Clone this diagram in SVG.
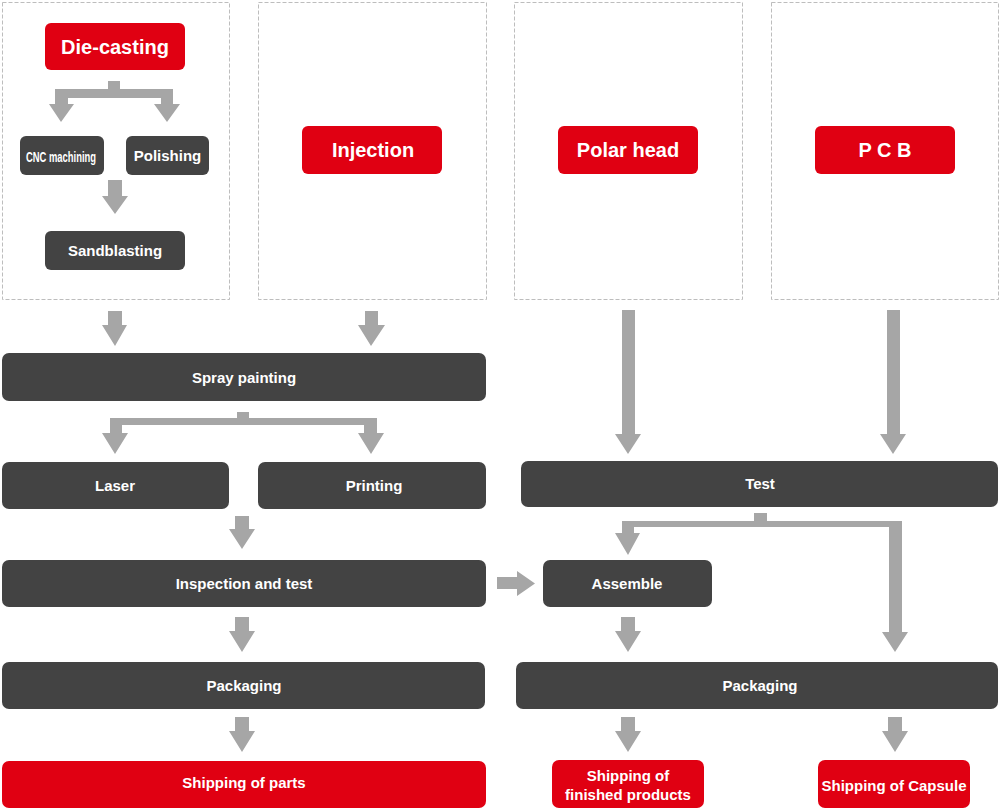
<svg xmlns="http://www.w3.org/2000/svg" width="1000" height="809" viewBox="0 0 1000 809">
<style>
.frame{fill:#fff;stroke:#bdbdbd;stroke-width:1;stroke-dasharray:4 2}
.red{fill:#e00012}
.dark{fill:#434343}
.arr{fill:#a6a6a6}
text{font-family:"Liberation Sans",Arial,sans-serif;font-weight:bold;fill:#fff;text-anchor:middle}
.big{font-size:20px}
.mid{font-size:15px}
</style>
<rect class="frame" x="2.5" y="2.5" width="227" height="297"/>
<rect class="frame" x="258.5" y="2.5" width="228" height="297"/>
<rect class="frame" x="514.5" y="2.5" width="228" height="297"/>
<rect class="frame" x="771.5" y="2.5" width="227" height="297"/>

<g id="connectors">
  <path class="arr" d="M108,81H120V89H173V104H180L167,122L154,104H161V98H68V104H74L61,122L49,104H55V89H108Z"/>
  <path class="arr" d="M108,180H122V196H128L115,214L102,196H108Z"/>
  <path class="arr" d="M108,311H122V325H127L115,346L102,325H108Z"/>
  <path class="arr" d="M365,311H378V325H385L371,346L358,325H365Z"/>
  <path class="arr" d="M237,412H249V418H377V433H384L371,454L358,433H364V425H122V433H128L115,454L102,433H110V418H237Z"/>
  <path class="arr" d="M235,516H249V529H255L242,549L229,529H235Z"/>
  <path class="arr" d="M497,577H517V571L535,583.5L517,596V589H497Z"/>
  <path class="arr" d="M235,617H249V631H255L242,652L229,631H235Z"/>
  <path class="arr" d="M235,717H249V731H255L242,752L229,731H235Z"/>
  <path class="arr" d="M622,310H635V434H641L628,454L615,434H622Z"/>
  <path class="arr" d="M887,310H900V434H906L893,454L880,434H887Z"/>
  <path class="arr" d="M754,513H767V521H902V632H908L895,652L882,632H889V527H634V533H640L628,555L615,533H622V521H754Z"/>
  <path class="arr" d="M621,617H635V631H641L628,652L615,631H621Z"/>
  <path class="arr" d="M621,717H635V731H641L628,752L615,731H621Z"/>
  <path class="arr" d="M888,717H902V731H908L895,752L882,731H888Z"/>
</g>

<g id="die-casting"><rect class="red" x="45" y="23" width="140" height="47" rx="6"/><text class="big" x="115" y="53.5">Die-casting</text></g>
<g id="cnc"><rect class="dark" x="20" y="136" width="84" height="39" rx="6"/><text x="61" y="161.5" font-size="15" textLength="70" lengthAdjust="spacingAndGlyphs">CNC machining</text></g>
<g id="polishing"><rect class="dark" x="126" y="136" width="83" height="39" rx="6"/><text class="mid" x="167.5" y="161">Polishing</text></g>
<g id="sandblasting"><rect class="dark" x="45" y="231" width="140" height="39" rx="6"/><text class="mid" x="115" y="256">Sandblasting</text></g>
<g id="injection"><rect class="red" x="302" y="126" width="140" height="48" rx="6"/><text class="big" x="373" y="157">Injection</text></g>
<g id="polar-head"><rect class="red" x="558" y="126" width="140" height="48" rx="6"/><text class="big" x="628" y="157">Polar head</text></g>
<g id="pcb"><rect class="red" x="815" y="126" width="140" height="48" rx="6"/><text class="big" x="885" y="157">P C B</text></g>
<g id="spray"><rect class="dark" x="2" y="353" width="484" height="48" rx="7"/><text class="mid" x="244" y="383">Spray painting</text></g>
<g id="laser"><rect class="dark" x="2" y="462" width="227" height="47" rx="7"/><text class="mid" x="115" y="491">Laser</text></g>
<g id="printing"><rect class="dark" x="258" y="462" width="228" height="47" rx="7"/><text class="mid" x="374" y="491">Printing</text></g>
<g id="test"><rect class="dark" x="521" y="461" width="477" height="46" rx="7"/><text class="mid" x="760" y="489">Test</text></g>
<g id="inspection"><rect class="dark" x="2" y="560" width="484" height="47" rx="7"/><text class="mid" x="244" y="589">Inspection and test</text></g>
<g id="assemble"><rect class="dark" x="543" y="560" width="169" height="47" rx="7"/><text class="mid" x="627" y="589">Assemble</text></g>
<g id="packaging-left"><rect class="dark" x="2" y="662" width="483" height="47" rx="7"/><text class="mid" x="244" y="691">Packaging</text></g>
<g id="packaging-right"><rect class="dark" x="516" y="662" width="482" height="47" rx="7"/><text class="mid" x="760" y="691">Packaging</text></g>
<g id="ship-parts"><rect class="red" x="2" y="761" width="484" height="47" rx="7"/><text class="mid" x="244" y="788">Shipping of parts</text></g>
<g id="ship-finished"><rect class="red" x="552" y="760" width="152" height="48" rx="7"/><text class="mid" x="628" y="781">Shipping of</text><text class="mid" x="628" y="800">finished products</text></g>
<g id="ship-capsule"><rect class="red" x="818" y="760" width="152" height="48" rx="7"/><text class="mid" x="894" y="791">Shipping of Capsule</text></g>
</svg>
